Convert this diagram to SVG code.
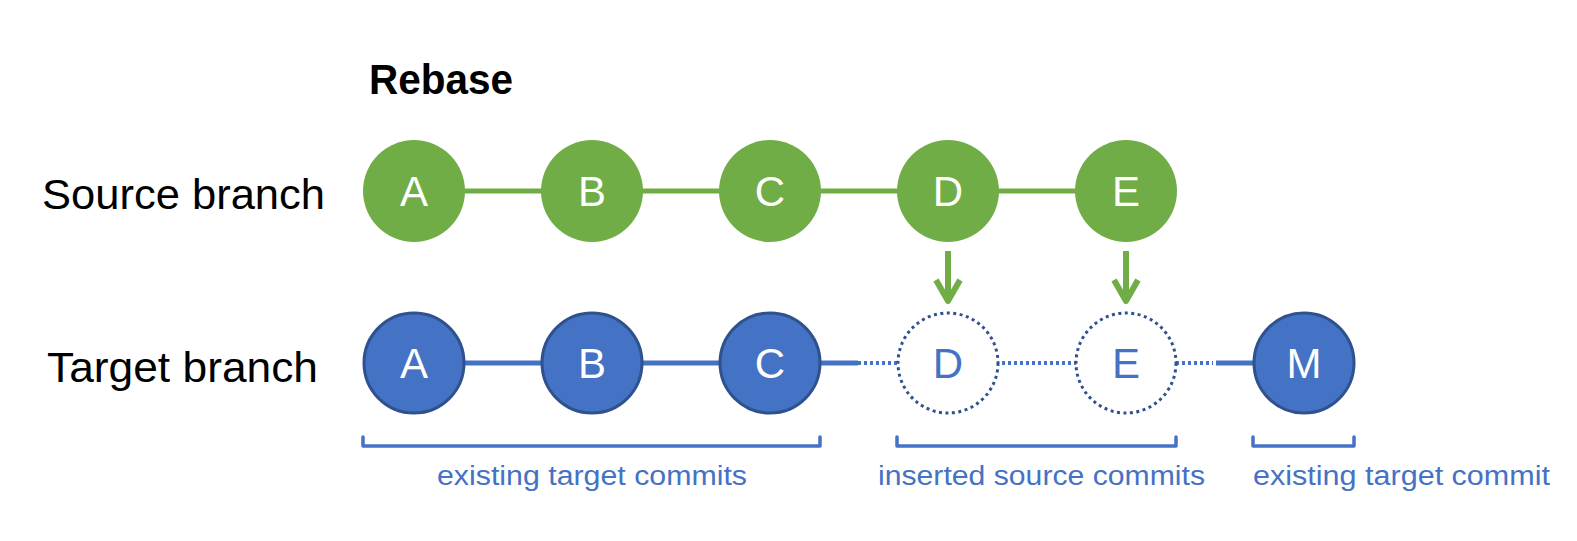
<svg xmlns="http://www.w3.org/2000/svg" width="1577" height="541" viewBox="0 0 1577 541">
<style>
.lbl{font-family:"Liberation Sans",Arial,sans-serif;font-size:43px;fill:#000}
.title{font-family:"Liberation Sans",Arial,sans-serif;font-size:42px;font-weight:bold;fill:#000}
.src{fill:#70AD47}
.tgt{fill:#4472C4;stroke:#2F528F;stroke-width:3}
.ghost{fill:#fff;stroke:#2F528F;stroke-width:3;stroke-dasharray:3 3.5}
.ltr{font-family:"Liberation Sans",Arial,sans-serif;font-size:42px;fill:#fff;text-anchor:middle}
.gl{font-family:"Liberation Sans",Arial,sans-serif;font-size:42px;fill:#4472C4;text-anchor:middle}
.cap{font-family:"Liberation Sans",Arial,sans-serif;font-size:27px;fill:#4472C4}
.gline{stroke:#70AD47;stroke-width:5;fill:none}
.bline{stroke:#4472C4;stroke-width:5;fill:none}
.dline{stroke:#4472C4;stroke-width:4;stroke-dasharray:3 3;fill:none}
.arr{stroke:#70AD47;stroke-width:6;fill:none;stroke-linejoin:round}
.brk{stroke:#4472C4;stroke-width:3.5;fill:none;stroke-linecap:round;stroke-linejoin:round}
</style>
<rect width="1577" height="541" fill="#fff"/>
<text class="title" x="369" y="94" textLength="144" lengthAdjust="spacingAndGlyphs">Rebase</text>
<text class="lbl" x="42" y="209" textLength="283" lengthAdjust="spacingAndGlyphs">Source branch</text>
<text class="lbl" x="47" y="382" textLength="271" lengthAdjust="spacingAndGlyphs">Target branch</text>
<g id="connectors">
<line class="gline" x1="414" y1="191" x2="1126" y2="191"/>
<line class="bline" x1="414" y1="363" x2="858" y2="363"/>
<line class="dline" x1="858" y1="363" x2="1213" y2="363"/>
<line class="bline" x1="1216" y1="363" x2="1304" y2="363"/>
<line class="arr" x1="948" y1="251" x2="948" y2="300"/>
<polyline class="arr" points="936,280 948,301 960,280"/>
<line class="arr" x1="1126" y1="251" x2="1126" y2="300"/>
<polyline class="arr" points="1114,280 1126,301 1138,280"/>
</g>
<g id="srcA"><circle class="src" cx="414" cy="191" r="51"/><text class="ltr" x="414" y="206">A</text></g>
<g id="srcB"><circle class="src" cx="592" cy="191" r="51"/><text class="ltr" x="592" y="206">B</text></g>
<g id="srcC"><circle class="src" cx="770" cy="191" r="51"/><text class="ltr" x="770" y="206">C</text></g>
<g id="srcD"><circle class="src" cx="948" cy="191" r="51"/><text class="ltr" x="948" y="206">D</text></g>
<g id="srcE"><circle class="src" cx="1126" cy="191" r="51"/><text class="ltr" x="1126" y="206">E</text></g>
<g id="tgtA"><circle class="tgt" cx="414" cy="363" r="50"/><text class="ltr" x="414" y="378">A</text></g>
<g id="tgtB"><circle class="tgt" cx="592" cy="363" r="50"/><text class="ltr" x="592" y="378">B</text></g>
<g id="tgtC"><circle class="tgt" cx="770" cy="363" r="50"/><text class="ltr" x="770" y="378">C</text></g>
<g id="tgtD"><circle class="ghost" cx="948" cy="363" r="50"/><text class="gl" x="948" y="378">D</text></g>
<g id="tgtE"><circle class="ghost" cx="1126" cy="363" r="50"/><text class="gl" x="1126" y="378">E</text></g>
<g id="tgtM"><circle class="tgt" cx="1304" cy="363" r="50"/><text class="ltr" x="1304" y="378">M</text></g>
<g id="bracket1"><path class="brk" d="M363,437 V446 H820 V437"/><text class="cap" x="437" y="485" textLength="310" lengthAdjust="spacingAndGlyphs">existing target commits</text></g>
<g id="bracket2"><path class="brk" d="M897,437 V446 H1176 V437"/><text class="cap" x="878" y="485" textLength="327" lengthAdjust="spacingAndGlyphs">inserted source commits</text></g>
<g id="bracket3"><path class="brk" d="M1253,437 V446 H1354 V437"/><text class="cap" x="1253" y="485" textLength="297" lengthAdjust="spacingAndGlyphs">existing target commit</text></g>
</svg>
